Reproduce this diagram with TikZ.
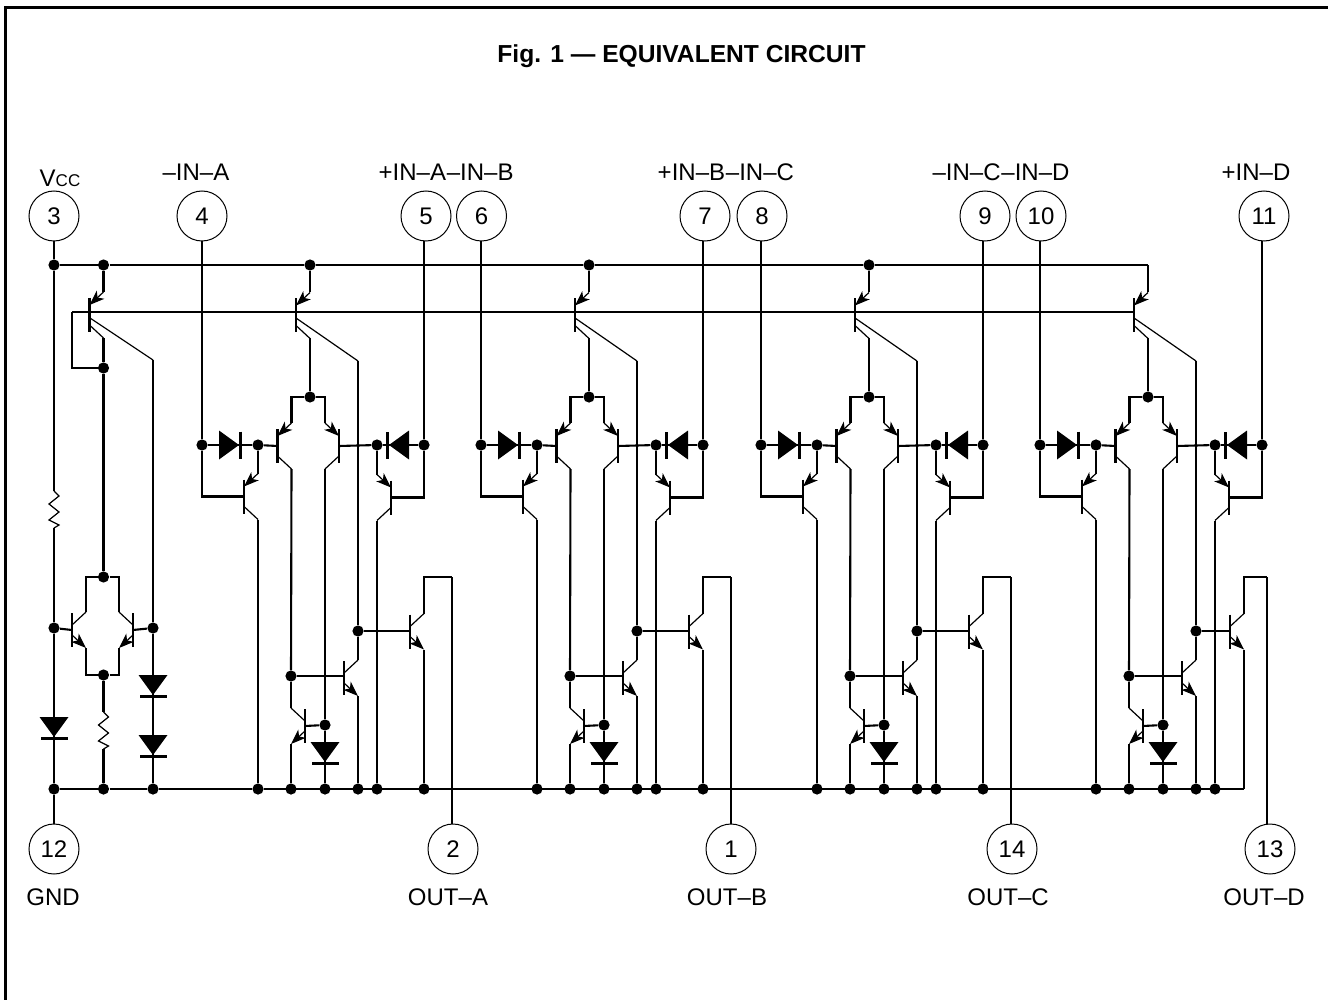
\documentclass[tikz,border=0pt]{standalone}
\usepackage{fontspec}
\setmainfont{Liberation Sans}
\usetikzlibrary{arrows.meta}

\begin{document}
\begin{tikzpicture}[x=0.5pt, y=-0.5pt]
		\tikzset{
			line/.style={
				line width=1.05pt
			},
			thinline/.style={
				line width=0.6pt
			},
			frame/.style={
				line width=1.1pt
			},
			pin/.style={
				draw,
				circle,
				line width=0.5pt,
				minimum size=25pt,
				inner sep=0pt,
				font=\fontsize{12}{14}\selectfont
			},
			lab/.style={
				anchor=base,
				inner sep=0pt,
				font=\fontsize{12}{14}\selectfont
			},
			title/.style={
				inner sep=0pt,
				font=\fontsize{12.3}{15}\selectfont\bfseries
			},
			dot/.style={
				circle,
				fill=black,
				minimum size=5.6pt,
				inner sep=0pt
			},
			nodot/.style={
				inner sep=0pt,
				minimum size=0pt
			},
			tip/.style={
				-{Stealth[length=7.5pt, width=5.5pt, inset=2pt]}
			},
			pics/npn/.style={
				code={
					\draw[line] (0,-17) -- (0,17);
					\draw[thinline] (0,-#1+13) -- (14,-#1);
					\draw[thinline, tip] (0,#1-13) -- (14,#1);
					\coordinate (-b) at (0,0);
					\coordinate (-c) at (14,-#1);
					\coordinate (-e) at (14,#1);
				}
			},
			pics/pnp/.style={
				code={
					\draw[line] (0,-17) -- (0,17);
					\draw[thinline, tip] (14,-#1) -- (0,-#1+13);
					\draw[thinline] (0,#1-13) -- (14,#1);
					\coordinate (-b) at (0,0);
					\coordinate (-c) at (14,#1);
					\coordinate (-e) at (14,-#1);
				}
			},
			pics/diode/.style={
				code={
					\fill (-20,-14.5) -- (-20,14.5) -- (0,0) -- cycle;
					\draw[line] (1.5,-13.5) -- (1.5,13.5);
				}
			},
			pics/resistor/.style={
				code={
					\draw[thinline] (0,0) -- (5,5) -- (-5,13) -- (5,21) -- (-5,29) -- (5,34) -- (0,37);
					\coordinate (-t) at (0,0);
					\coordinate (-b) at (0,37);
				}
			}
		}

		\useasboundingbox (0,0) rectangle (1328,1000);

		\draw[frame] (5.5,1000) -- (5.5,7.5) -- (1328,7.5);

		\node[title] (title) at (681.5,56)
			{Fig. 1 — EQUIVALENT CIRCUIT};

		\node[pin] (pin3) at (54,216) {3};
		\node[pin] (pin4) at (202,216) {4};
		\node[pin] (pin5) at (426,216) {5};
		\node[pin] (pin6) at (481.5,216) {6};
		\node[pin] (pin7) at (705,216) {7};
		\node[pin] (pin8) at (762,216) {8};
		\node[pin] (pin9) at (985,216) {9};
		\node[pin] (pin10) at (1041,216) {10};
		\node[pin] (pin11) at (1264,216) {11};
		\node[pin] (pin12) at (54,849) {12};
		\node[pin] (pin2) at (453,849) {2};
		\node[pin] (pin1) at (731,849) {1};
		\node[pin] (pin14) at (1012,849) {14};
		\node[pin] (pin13) at (1270,849) {13};

		\node[lab] (lab3) at (60,187)
			{V{\fontsize{8.5}{8.5}\selectfont CC}};
		\node[lab] (lab4) at (196,181) {–IN–A};
		\node[lab, anchor=base east] (lab5) at (446.5,181) {+IN–A};
		\node[lab, anchor=base west] (lab6) at (446.5,181) {–IN–B};
		\node[lab, anchor=base east] (lab7) at (725.5,181) {+IN–B};
		\node[lab, anchor=base west] (lab8) at (725.5,181) {–IN–C};
		\node[lab, anchor=base east] (lab9) at (1001,181) {–IN–C};
		\node[lab, anchor=base west] (lab10) at (1001,181) {–IN–D};
		\node[lab] (lab11) at (1256,181) {+IN–D};
		\node[lab] (lab12) at (53,905) {GND};
		\node[lab] (lab2) at (448,905) {OUT–A};
		\node[lab] (lab1) at (727,905) {OUT–B};
		\node[lab] (lab14) at (1008,905) {OUT–C};
		\node[lab] (lab13) at (1264,905) {OUT–D};

		\node[dot] (vcc) at (54,265) {};
		\node[dot] (rail0) at (103.5,265) {};
		\node[dot] (cm) at (103.5,368) {};
		\node[dot] (tail0) at (103.5,577) {};
		\node[dot] (foot0) at (103.5,675) {};
		\node[dot] (ref1) at (54,628) {};
		\node[dot] (ref2) at (153,628) {};
		\node[dot] (gnd) at (54,789) {};
		\node[dot] (gnd1) at (103.5,789) {};
		\node[dot] (gnd2) at (153,789) {};
		\coordinate (baseleft) at (72,312);
		\coordinate (tap0) at (90,318);
		\coordinate (sense0) at (153,360);

		\pic (top0) at (89.5,315) {pnp=23};
		\pic (mirl) at (72,630) {npn=18};
		\pic[xscale=-1] (mirr) at (133,630) {npn=18};
		\pic (res1) at (54,491) {resistor};
		\pic (res2) at (103.5,712) {resistor};

		\draw[line] (pin3) -- (vcc);
		\draw[line] (vcc) -- (res1-t);
		\draw[line] (res1-b) -- (ref1);
		\draw[line] (ref1) -- (gnd);
		\draw[line] (gnd) -- (pin12);
		\draw[line] (vcc) -- (rail0);
		\draw[line] (rail0) -- (top0-e);
		\draw[line] (top0-c) -- (cm);
		\draw[line] (cm) -- (tail0);
		\draw[thinline] (tap0) -- (sense0);
		\draw[line] (sense0) -- (ref2);
		\draw[line] (ref2) -- (gnd2);
		\draw[line] (tail0) -| (mirl-c);
		\draw[line] (tail0) -| (mirr-c);
		\draw[line] (foot0) -| (mirl-e);
		\draw[line] (foot0) -| (mirr-e);
		\draw[line] (ref1) -- (mirl-b);
		\draw[line] (ref2) -- (mirr-b);
		\draw[line] (foot0) -- (res2-t);
		\draw[line] (res2-b) -- (gnd1);

		\pic[rotate=-90] at (54,737) {diode};
		\pic[rotate=-90] at (153,695) {diode};
		\pic[rotate=-90] at (153,755) {diode};

		\foreach \n/\dx/\pl/\pr/\po/\ox/\cx/\nd in {a/0/4/5/2/0/452/dot, b/279/6/7/1/0/452/dot, c/559/8/9/14/0/452/dot, d/838/10/11/13/-18/429/nodot} {
			\begin{scope}[shift={(\dx,0)}]
				\node[\nd] (rail\n) at (310,265) {};
				\node[dot] (tail\n) at (310,397) {};
				\node[dot] (inl\n) at (202,445) {};
				\node[dot] (gl\n) at (258,445) {};
				\node[dot] (gr\n) at (377,445) {};
				\node[dot] (inr\n) at (424,445) {};
				\node[dot] (comp\n) at (358,631) {};
				\node[dot] (drv\n) at (291,676) {};
				\node[dot] (pd\n) at (325,725) {};
				\node[dot] (bus1\n) at (258,789) {};
				\node[dot] (bus2\n) at (291,789) {};
				\node[dot] (bus3\n) at (325,789) {};
				\node[dot] (bus4\n) at (358,789) {};
				\node[dot] (bus5\n) at (377,789) {};
				\node[\nd] (bus6\n) at (424+\ox,789) {};
				\coordinate (tap\n) at (296,318);
				\coordinate (sense\n) at (358,361);
				\coordinate (corner\n) at (\cx,577);

				\pic (top\n) at (296,315.5) {pnp=23};
				\pic (dpl\n) at (277.5,446) {pnp=23};
				\pic[xscale=-1] (dpr\n) at (339,446) {pnp=23};
				\pic (ql\n) at (244,496.5) {pnp=23};
				\pic[xscale=-1] (qr\n) at (391,497.5) {pnp=23};
				\pic (mid\n) at (344,678) {npn=18};
				\pic[xscale=-1] (lo\n) at (305,726) {npn=18};
				\pic (out\n) at (410+\ox,631.5) {npn=18};
				\pic at (239,445) {diode};
				\pic[rotate=180] at (389,445) {diode};
				\pic[rotate=-90] at (325,762) {diode};
			\end{scope}

			\draw[line] (rail\n) -- (top\n-e);
			\draw[line] (top\n-c) -- (tail\n);
			\draw[thinline] (tap\n) -- (sense\n);
			\draw[line] (sense\n) -- (comp\n);

			\draw[line] (tail\n) -| (dpl\n-e);
			\draw[line] (tail\n) -| (dpr\n-e);
			\draw[line] (gl\n) -- (dpl\n-b);
			\draw[line] (gr\n) -- (dpr\n-b);
			\draw[line] (inl\n |- pin\pl.south) -- (inl\n);
			\draw[line] (inr\n |- pin\pr.south) -- (inr\n);
			\draw[line] (inl\n) -- (gl\n);
			\draw[line] (inr\n) -- (gr\n);

			\draw[line] (gl\n) -- (ql\n-e);
			\draw[line] (gr\n) -- (qr\n-e);
			\draw[line] (inl\n) |- (ql\n-b);
			\draw[line] (inr\n) |- (qr\n-b);
			\draw[line] (ql\n-c) -- (bus1\n);
			\draw[line] (qr\n-c) -- (bus5\n);

			\draw[line] (dpl\n-c) -- (drv\n);
			\draw[line] (drv\n) -- (lo\n-c);
			\draw[line] (lo\n-e) -- (bus2\n);
			\draw[line] (lo\n-b) -- (pd\n);
			\draw[line] (dpr\n-c) -- (pd\n);
			\draw[line] (pd\n) -- (bus3\n);

			\draw[thinline] (drv\n) -- (drv\n -| mid\n-b);
			\draw[line] (mid\n-c) -- (comp\n);
			\draw[line] (mid\n-e) -- (bus4\n);
			\draw[line] (comp\n) -- (comp\n -| out\n-b);
			\draw[line] (out\n-e) -- (bus6\n);
			\draw[line] (out\n-c) |- (corner\n);
			\draw[line] (corner\n) -- (corner\n |- pin\po.north);
		}

		\draw[line] (baseleft) |- (cm);
		\draw[line] (baseleft) -- (baseleft -| topd-b);
		\draw[line] (rail0) -- (raila) -- (railb) -- (railc) -- (raild);
		\draw[line] (gnd) -- (gnd1) -- (gnd2) -- (bus1a) -- (bus6d);
	\end{tikzpicture}
\end{document}
